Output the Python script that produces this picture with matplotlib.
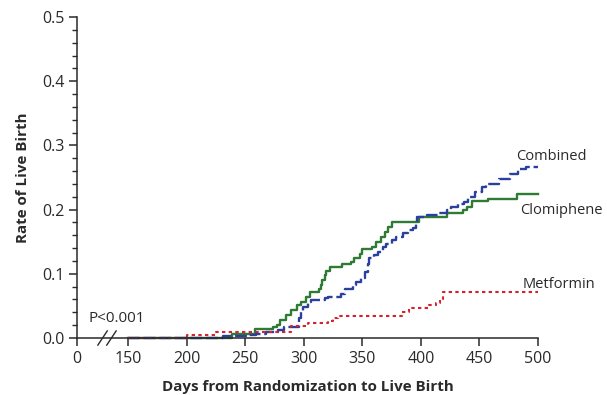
import matplotlib
matplotlib.use('Agg')
import matplotlib.pyplot as plt
import matplotlib.transforms as mtransforms
from matplotlib.ticker import MultipleLocator, FormatStrFormatter

plt.rcParams['font.family'] = ['Open Sans', 'DejaVu Sans']

# step curves, days and cumulative rate of live birth
combined_days = [150, 231, 252, 259, 268, 278, 283, 296, 298, 299, 304, 306, 318, 321,
                 332, 335, 342, 345, 349, 352, 355, 356, 360, 363, 368, 370, 375, 379,
                 385, 389, 393, 396, 397, 405, 415, 422, 426, 432, 437, 440, 446, 452,
                 456, 467, 476, 483, 490, 500]
combined_rate = [0, 0.003, 0.005, 0.007, 0.010, 0.0125, 0.017, 0.031, 0.041, 0.049, 0.056,
                 0.059, 0.062, 0.064, 0.069, 0.076, 0.082, 0.087, 0.093, 0.103, 0.115, 0.124,
                 0.129, 0.134, 0.142, 0.147, 0.153, 0.157, 0.163, 0.168, 0.172, 0.181, 0.188,
                 0.191, 0.194, 0.199, 0.204, 0.208, 0.212, 0.219, 0.227, 0.235, 0.240, 0.248,
                 0.256, 0.263, 0.267, 0.267]

clomiphene_days = [150, 239, 258, 274, 277, 280, 285, 289, 294, 298, 302, 305, 313, 315,
                   316, 318, 319, 322, 333, 340, 343, 348, 350, 358, 362, 366, 369, 372,
                   375, 398, 422, 436, 439, 444, 457, 482, 500]
clomiphene_rate = [0, 0.007, 0.0135, 0.0176, 0.020, 0.028, 0.036, 0.0435, 0.051, 0.056,
                   0.064, 0.072, 0.077, 0.082, 0.090, 0.098, 0.105, 0.111, 0.116, 0.118,
                   0.124, 0.131, 0.138, 0.142, 0.150, 0.157, 0.165, 0.173, 0.181, 0.189,
                   0.194, 0.199, 0.204, 0.213, 0.217, 0.224, 0.224]

metformin_days = [150, 200, 225, 289, 304, 321, 325, 329, 384, 390, 407, 413, 416, 419, 500]
metformin_rate = [0, 0.005, 0.0095, 0.018, 0.023, 0.026, 0.031, 0.034, 0.040, 0.047,
                  0.051, 0.055, 0.060, 0.071, 0.071]

tick_pos = [106.4, 150, 200, 250, 300, 350, 400, 450, 500]
tick_labels = ['0', '150', '200', '250', '300', '350', '400', '450', '500']
break_at = 132

green = '#2f7a35'
blue = '#2b3f9c'
red = '#d2232f'
ink = '#2a2a2a'

fig = plt.figure(figsize=(6.07, 3.95), dpi=100)
ax = fig.add_axes([0.1269, 0.1443, 0.7594, 0.8127])

ax.step(clomiphene_days, clomiphene_rate, where='post', color=green, lw=1.7, clip_on=False)
ax.step(combined_days, combined_rate, where='post', color=blue, lw=1.7,
        dashes=(5, 1.6), clip_on=False)
ax.step(metformin_days, metformin_rate, where='post', color=red, lw=1.5,
        dashes=(1.6, 1.6), clip_on=False)

ax.set_xlim(106.4, 500)
ax.set_ylim(0, 0.5)
ax.set_xticks(tick_pos)
ax.set_xticklabels(tick_labels)
ax.yaxis.set_major_locator(MultipleLocator(0.1))
ax.yaxis.set_minor_locator(MultipleLocator(0.02))
ax.yaxis.set_major_formatter(FormatStrFormatter('%.1f'))

for s in ['top', 'right']:
    ax.spines[s].set_visible(False)
for s in ['left', 'bottom']:
    ax.spines[s].set_linewidth(1.1)
    ax.spines[s].set_color(ink)
ax.tick_params(axis='both', which='major', length=6, width=1.1, labelsize=11.5,
               colors=ink, pad=3)
ax.tick_params(axis='y', which='minor', length=3.5, width=1.0, colors=ink)

ax.set_ylabel('Rate of Live Birth', fontsize=10.9, fontweight='bold', labelpad=9, color=ink)
ax.set_xlabel('Days from Randomization to Live Birth', fontsize=10.9,
              fontweight='bold', labelpad=10, color=ink)

# axis break marks
for dx in [-3.2, 3.2]:
    off = mtransforms.offset_copy(ax.get_xaxis_transform(), fig=fig, x=dx, y=0, units='points')
    ax.plot([break_at - 4, break_at + 4], [-0.022, 0.022], color=ink, lw=1.0,
            transform=off, clip_on=False)

ax.text(116, 0.031, 'P<0.001', fontsize=11, ha='left', va='center', color=ink)
ax.text(481, 0.283, 'Combined', fontsize=10.5, ha='left', va='center', color=ink)
ax.text(485, 0.198, 'Clomiphene', fontsize=10.5, ha='left', va='center', color=ink)
ax.text(487, 0.084, 'Metformin', fontsize=10.5, ha='left', va='center', color=ink)

fig.savefig('out.png', dpi=100, facecolor='white')
